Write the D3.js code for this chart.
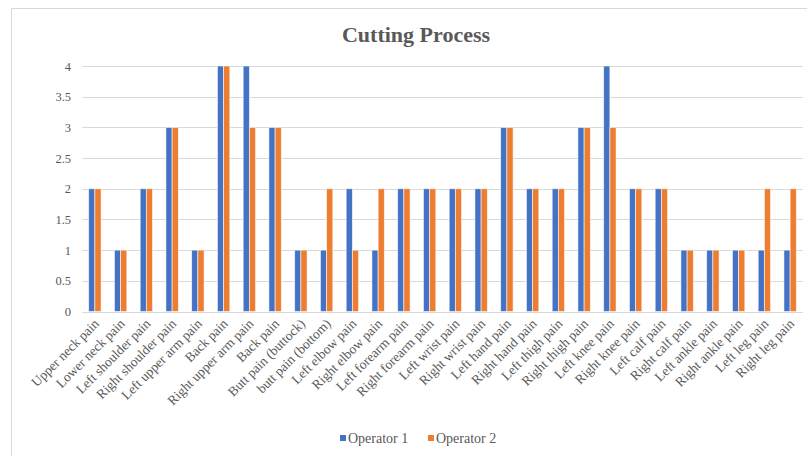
<!DOCTYPE html>
<html>
<head>
<meta charset="utf-8">
<script src="https://cdn.jsdelivr.net/npm/d3@7"></script>
<style>
  html, body { margin: 0; padding: 0; background: #fff; }
  svg { display: block; }
  text { font-family: "Liberation Serif", "Times New Roman", serif; }
</style>
</head>
<body>
<svg id="chart" width="807" height="456"></svg>
<script>
// Pain complaints per body region, rated by two operators
const categories = [
  "Upper neck pain", "Lower neck pain", "Left shoulder pain", "Right shoulder pain",
  "Left upper arm pain", "Back pain", "Right upper arm pain", "Back pain",
  "Butt pain (buttock)", "butt pain (bottom)", "Left elbow pain", "Right elbow pain",
  "Left forearm pain", "Right forearm pain", "Left wrist pain", "Right wrist pain",
  "Left hand pain", "Right hand pain", "Left thigh pain", "Right thigh pain",
  "Left knee pain", "Right knee pain", "Left calf pain", "Right calf pain",
  "Left ankle pain", "Right ankle pain", "Left leg pain", "Right leg pain"
];
const operator1 = [2, 1, 2, 3, 1, 4, 4, 3, 1, 1, 2, 1, 2, 2, 2, 2, 3, 2, 2, 3, 4, 2, 2, 1, 1, 1, 1, 1];
const operator2 = [2, 1, 2, 3, 1, 4, 3, 3, 1, 2, 1, 2, 2, 2, 2, 2, 3, 2, 2, 3, 3, 2, 2, 1, 1, 1, 2, 2];
const seriesNames = ["Operator 1", "Operator 2"];
const yTicks = [0, 0.5, 1, 1.5, 2, 2.5, 3, 3.5, 4];

const colors = ["#4472C4", "#ED7D31"];
const svg = d3.select("#chart");

// chart area frame (left and top edges visible)
svg.append("path")
  .attr("d", "M11.5,456 V8.5 H807")
  .attr("fill", "none")
  .attr("stroke", "#d9d9d9")
  .attr("stroke-width", 1);

const plot = { left: 82, right: 803, top: 66, bottom: 311.5 };

const x = d3.scaleBand()
  .domain(d3.range(categories.length))
  .range([plot.left, plot.right])
  .paddingInner(0)
  .paddingOuter(0);

const y = d3.scaleLinear()
  .domain([0, 4])
  .range([plot.bottom, plot.top]);

const inner = d3.scaleBand()
  .domain([0, 1])
  .range([-6.2, 6.2]);

// title
svg.append("text")
  .attr("x", 416)
  .attr("y", 42)
  .attr("text-anchor", "middle")
  .attr("font-size", 22)
  .attr("font-weight", "bold")
  .attr("fill", "#595959")
  .text("Cutting Process");

// horizontal gridlines
svg.append("g")
  .selectAll("line")
  .data(yTicks)
  .join("line")
  .attr("x1", plot.left)
  .attr("x2", plot.right)
  .attr("y1", d => Math.round(y(d)) + 0.5)
  .attr("y2", d => Math.round(y(d)) + 0.5)
  .attr("stroke", "#d9d9d9")
  .attr("stroke-width", 1);

// y axis labels
const yAxis = d3.axisLeft(y)
  .tickValues(yTicks)
  .tickSize(0)
  .tickPadding(0)
  .tickFormat(d => String(d));
const yg = svg.append("g")
  .attr("transform", `translate(71,0)`)
  .call(yAxis);
yg.select(".domain").remove();
yg.selectAll("text")
  .attr("font-family", "Liberation Serif, serif")
  .attr("font-size", 12.5)
  .attr("fill", "#595959");

// bars
const series = [operator1, operator2];
const groups = svg.append("g")
  .selectAll("g")
  .data(series)
  .join("g")
  .attr("fill", (d, i) => colors[i]);

groups.each(function(values, si) {
  d3.select(this).selectAll("rect")
    .data(values)
    .join("rect")
    .attr("x", (d, i) => x(i) + x.bandwidth() / 2 + inner(si))
    .attr("width", inner.bandwidth())
    .attr("y", d => y(d))
    .attr("height", d => y(0) - y(d))
    .attr("stroke", "#ffffff")
    .attr("stroke-opacity", 0.7)
    .attr("stroke-width", 0.8);
});

// x axis baseline
svg.append("line")
  .attr("x1", plot.left)
  .attr("x2", plot.right)
  .attr("y1", Math.round(y(0)) + 0.5)
  .attr("y2", Math.round(y(0)) + 0.5)
  .attr("stroke", "#d9d9d9");

// x axis category labels, rotated
const xAxis = d3.axisBottom(x)
  .tickSize(0)
  .tickPadding(0)
  .tickFormat(i => categories[i]);
const xg = svg.append("g")
  .attr("transform", `translate(0,${plot.bottom})`)
  .call(xAxis);
xg.select(".domain").remove();
xg.selectAll("text")
  .attr("font-family", "Liberation Serif, serif")
  .attr("font-size", 13.5)
  .attr("fill", "#595959")
  .attr("text-anchor", "end")
  .attr("dy", null)
  .attr("y", 0)
  .attr("transform", "translate(5,13) rotate(-45)");

// legend
const legend = svg.append("g");
const legendX = [340, 428];
seriesNames.forEach((name, i) => {
  legend.append("rect")
    .attr("x", legendX[i])
    .attr("y", 435)
    .attr("width", 6)
    .attr("height", 6)
    .attr("fill", colors[i]);
  legend.append("text")
    .attr("x", legendX[i] + 8)
    .attr("y", 443)
    .attr("font-size", 14)
    .attr("fill", "#595959")
    .text(name);
});
</script>
</body>
</html>
